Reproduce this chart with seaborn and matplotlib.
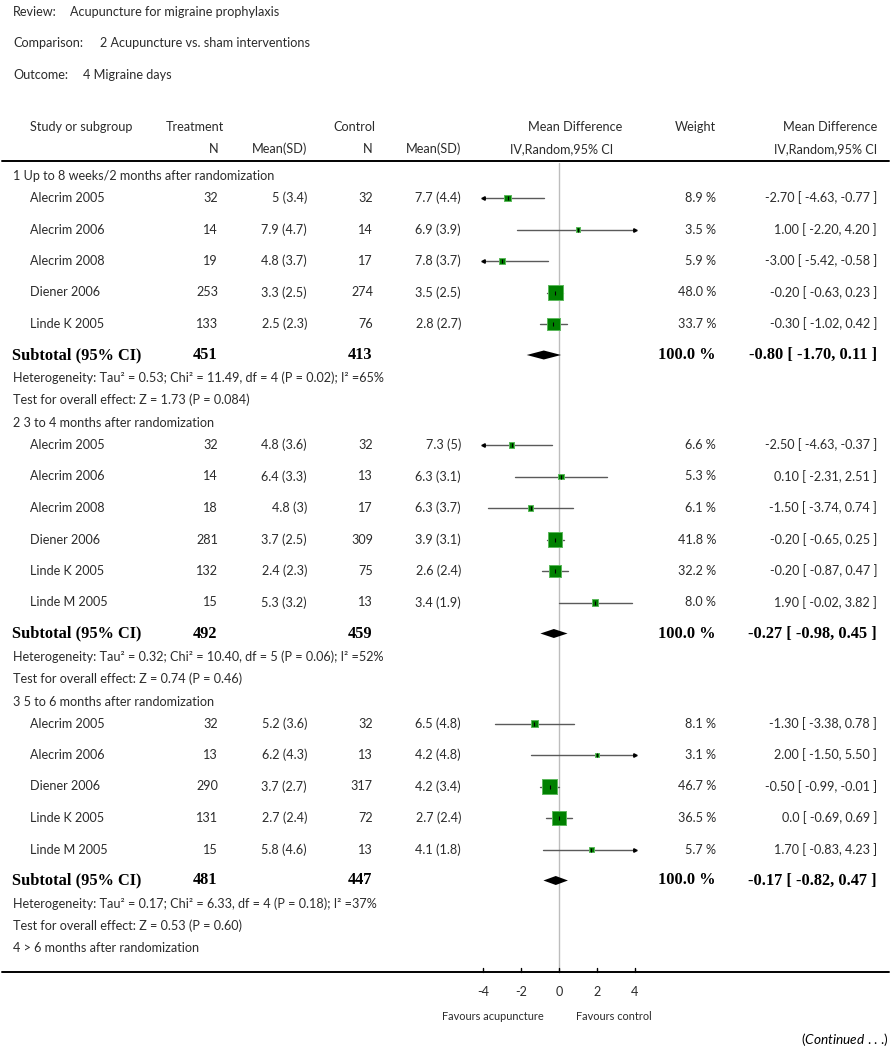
import matplotlib
matplotlib.use("Agg")
import matplotlib.pyplot as plt
import seaborn as sns
import pandas as pd

# ---- data ----
group_titles = ["1 Up to 8 weeks/2 months after randomization",
                "2 3 to 4 months after randomization",
                "3 5 to 6 months after randomization",
                "4 > 6 months after randomization"]

studies = [
    ["Alecrim 2005", "Alecrim 2006", "Alecrim 2008", "Diener 2006", "Linde K 2005"],
    ["Alecrim 2005", "Alecrim 2006", "Alecrim 2008", "Diener 2006", "Linde K 2005", "Linde M 2005"],
    ["Alecrim 2005", "Alecrim 2006", "Diener 2006", "Linde K 2005", "Linde M 2005"],
    [],
]
treat_n = [[32, 14, 19, 253, 133], [32, 14, 18, 281, 132, 15], [32, 13, 290, 131, 15], []]
treat_msd = [["5 (3.4)", "7.9 (4.7)", "4.8 (3.7)", "3.3 (2.5)", "2.5 (2.3)"],
             ["4.8 (3.6)", "6.4 (3.3)", "4.8 (3)", "3.7 (2.5)", "2.4 (2.3)", "5.3 (3.2)"],
             ["5.2 (3.6)", "6.2 (4.3)", "3.7 (2.7)", "2.7 (2.4)", "5.8 (4.6)"], []]
ctrl_n = [[32, 14, 17, 274, 76], [32, 13, 17, 309, 75, 13], [32, 13, 317, 72, 13], []]
ctrl_msd = [["7.7 (4.4)", "6.9 (3.9)", "7.8 (3.7)", "3.5 (2.5)", "2.8 (2.7)"],
            ["7.3 (5)", "6.3 (3.1)", "6.3 (3.7)", "3.9 (3.1)", "2.6 (2.4)", "3.4 (1.9)"],
            ["6.5 (4.8)", "4.2 (4.8)", "4.2 (3.4)", "2.7 (2.4)", "4.1 (1.8)"], []]
md = [[-2.70, 1.00, -3.00, -0.20, -0.30],
      [-2.50, 0.10, -1.50, -0.20, -0.20, 1.90],
      [-1.30, 2.00, -0.50, 0.0, 1.70], []]
ci_lo = [[-4.63, -2.20, -5.42, -0.63, -1.02],
         [-4.63, -2.31, -3.74, -0.65, -0.87, -0.02],
         [-3.38, -1.50, -0.99, -0.69, -0.83], []]
ci_hi = [[-0.77, 4.20, -0.58, 0.23, 0.42],
         [-0.37, 2.51, 0.74, 0.25, 0.47, 3.82],
         [0.78, 5.50, -0.01, 0.69, 4.23], []]
weight = [[8.9, 3.5, 5.9, 48.0, 33.7],
          [6.6, 5.3, 6.1, 41.8, 32.2, 8.0],
          [8.1, 3.1, 46.7, 36.5, 5.7], []]

sub_treat_n = [451, 492, 481]
sub_ctrl_n = [413, 459, 447]
sub_md = [-0.80, -0.27, -0.17]
sub_lo = [-1.70, -0.98, -0.82]
sub_hi = [0.11, 0.45, 0.47]
heterogeneity = ["Heterogeneity: Tau² = 0.53; Chi² = 11.49, df = 4 (P = 0.02); I² =65%",
                 "Heterogeneity: Tau² = 0.32; Chi² = 10.40, df = 5 (P = 0.06); I² =52%",
                 "Heterogeneity: Tau² = 0.17; Chi² = 6.33, df = 4 (P = 0.18); I² =37%"]
overall = ["Test for overall effect: Z = 1.73 (P = 0.084)",
           "Test for overall effect: Z = 0.74 (P = 0.46)",
           "Test for overall effect: Z = 0.53 (P = 0.60)"]

x_ticks = [-4, -2, 0, 2, 4]

# ---- styling ----
sns.set_theme(style="white")
plt.rcParams['font.family'] = ['Lato', 'DejaVu Sans']
plt.rcParams['mathtext.fontset'] = 'custom'
plt.rcParams['mathtext.it'] = 'Lato:italic'
plt.rcParams['mathtext.rm'] = 'Lato'

TXT = "#2b2b2b"
FS = 9.1
SERIF = "Liberation Serif"

W, H = 891, 1050
X0, SC = 559, 19.0   # pixel of zero, pixels per unit


def X(px):
    return (px - X0) / SC


def fmt(v):
    return "0.0" if v == 0 else f"{v:.2f}"


fig = plt.figure(figsize=(W / 100, H / 100), dpi=100)
ax = fig.add_axes([0, 0, 1, 1])
ax.set_xlim(X(0), X(W))
ax.set_ylim(H, 0)
ax.axis("off")

# title block
for y, lab, val, vx in [(12, "Review:", "Acupuncture for migraine prophylaxis", 70),
                        (43, "Comparison:", "2 Acupuncture vs. sham interventions", 100),
                        (75, "Outcome:", "4 Migraine days", 83)]:
    ax.text(X(13), y, lab, fontsize=FS, color=TXT, va="center")
    ax.text(X(vx), y, val, fontsize=FS, color=TXT, va="center")

# column headers
hdr = dict(fontsize=FS, color=TXT, va="center")
ax.text(X(30), 127, "Study or subgroup", **hdr)
ax.text(X(166), 127, "Treatment", **hdr)
ax.text(X(333), 127, "Control", **hdr)
ax.text(X(622), 127, "Mean Difference", ha="right", **hdr)
ax.text(X(716), 127, "Weight", ha="right", **hdr)
ax.text(X(877), 127, "Mean Difference", ha="right", **hdr)
ax.text(X(218), 149, "N", ha="right", **hdr)
ax.text(X(307), 149, "Mean(SD)", ha="right", **hdr)
ax.text(X(373), 149, "N", ha="right", **hdr)
ax.text(X(461), 149, "Mean(SD)", ha="right", **hdr)
ax.text(X(613), 149, "IV,Random,95% CI", ha="right", **hdr)
ax.text(X(877), 149, "IV,Random,95% CI", ha="right", **hdr)

# horizontal rules and zero line
ax.plot([X(2), X(889)], [161, 161], color="black", lw=1.4)
ax.plot([X(2), X(889)], [972, 972], color="black", lw=1.4)
ax.plot([0, 0], [163, 972], color="#bdbdbd", lw=1.0, zorder=1)

# ---- row layout ----
rows = []
y = 176
for g in range(len(group_titles)):
    ax.text(X(13), y, group_titles[g], fontsize=FS, color=TXT, va="center")
    if not studies[g]:
        break
    y += 22
    for i, name in enumerate(studies[g]):
        rows.append(dict(y=y, md=md[g][i], lo=ci_lo[g][i], hi=ci_hi[g][i], w=weight[g][i]))
        ax.text(X(30), y, name, **hdr)
        ax.text(X(218), y, str(treat_n[g][i]), ha="right", **hdr)
        ax.text(X(307), y, treat_msd[g][i], ha="right", **hdr)
        ax.text(X(373), y, str(ctrl_n[g][i]), ha="right", **hdr)
        ax.text(X(461), y, ctrl_msd[g][i], ha="right", **hdr)
        ax.text(X(716), y, f"{weight[g][i]:.1f} %", ha="right", **hdr)
        ax.text(X(877), y, f"{fmt(md[g][i])} [ {fmt(ci_lo[g][i])}, {fmt(ci_hi[g][i])} ]",
                ha="right", **hdr)
        y += 31.5
    y -= 0.5
    bold = dict(fontsize=11.8, color="black", va="center", family=SERIF, fontweight="bold")
    ax.text(X(12), y, "Subtotal (95% CI)", **bold)
    ax.text(X(217), y, str(sub_treat_n[g]), ha="right", **bold)
    ax.text(X(372), y, str(sub_ctrl_n[g]), ha="right", **bold)
    ax.text(X(716), y, "100.0 %", ha="right", **bold)
    ax.text(X(877), y, f"{fmt(sub_md[g])} [ {fmt(sub_lo[g])}, {fmt(sub_hi[g])} ]",
            ha="right", **bold)
    # diamond
    ax.fill([sub_lo[g], sub_md[g], sub_hi[g], sub_md[g]], [y, y - 4.5, y, y + 4.5],
            color="black", lw=0, zorder=4)
    y += 23
    ax.text(X(13), y, heterogeneity[g], **hdr)
    y += 22
    ax.text(X(13), y, overall[g], **hdr)
    y += 23

df = pd.DataFrame(rows)

# confidence intervals, clipped to the axis range with arrows
for _, r in df.iterrows():
    lo, hi = max(r.lo, -4), min(r.hi, 4)
    ax.plot([lo, hi], [r.y, r.y], color="#5a5a5a", lw=1.0, zorder=2)
    if r.lo < -4:
        ax.plot(-4, r.y, marker="<", ms=2.5, color="black", zorder=3)
    if r.hi > 4:
        ax.plot(4, r.y, marker=">", ms=2.5, color="black", zorder=3)

sns.scatterplot(data=df, x="md", y="y", size="w", sizes=(2, 125), size_norm=(0, 50),
                marker="s", color="#008000", edgecolor="#5cb85c", linewidth=0.7,
                legend=False, ax=ax, zorder=3)
ax.scatter(df["md"], df["y"], marker="|", s=8, color="black", lw=0.8, zorder=5)

# x axis ticks
for t in x_ticks:
    ax.plot([t, t], [972, 967.5], color="black", lw=1.0)
    ax.text(t, 992, f"{t}", fontsize=FS, color=TXT, ha="center", va="center")
ax.text(X(493), 1016, "Favours acupuncture", fontsize=7.9, color=TXT, ha="center", va="center")
ax.text(X(614), 1016, "Favours control", fontsize=7.9, color=TXT, ha="center", va="center")
ax.set_xlim(X(0), X(W))
ax.set_ylim(H, 0)

ax.text(X(889), 1040, r"($\mathit{Continued}$ . . .)", fontsize=9.8, color="black",
        ha="right", va="center")

fig.savefig("out.png", dpi=100, facecolor="white")
